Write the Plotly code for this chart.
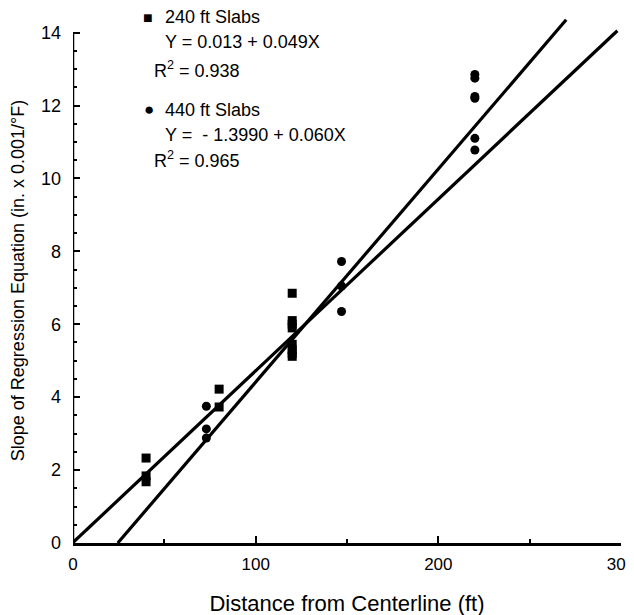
import plotly.graph_objects as go

# ---- data ----
sq_x = [40, 40, 40, 80, 80, 120, 120, 120, 120, 120, 120, 120, 120]
sq_y = [2.33, 1.84, 1.68, 4.22, 3.73, 6.85, 6.1, 6.0, 5.9, 5.45, 5.3, 5.2, 5.12]

ci_x = [73, 73, 73, 147, 147, 147, 220, 220, 220, 220, 220, 220]
ci_y = [3.75, 3.13, 2.88, 7.72, 7.05, 6.35, 12.85, 12.75, 12.25, 12.2, 11.1, 10.78]

fit240_x = [0, 298]
fit240_y = [0.013, 14.05]
fit440_x = [24.5, 270]
fit440_y = [0.0, 14.35]

x_ticks = [0, 100, 200, 300]
y_ticks = [0, 2, 4, 6, 8, 10, 12, 14]

FONT = "Liberation Sans, Arial, Helvetica, sans-serif"

# plot area geometry in screen pixels (page body has an 8px default margin)
OFF = 8
PL, PR, PB, PT = 73, 621, 543, 18
W, H = 634, 615
def px2paper_x(px):
    return (px - PL) / (PR - PL)
def px2paper_y(py):
    return (PB - py) / (PB - PT)

fig = go.Figure()
fig.add_trace(go.Scatter(x=fit240_x, y=fit240_y, mode="lines",
                         line=dict(color="black", width=3.2), showlegend=False,
                         hoverinfo="skip"))
fig.add_trace(go.Scatter(x=fit440_x, y=fit440_y, mode="lines",
                         line=dict(color="black", width=3.2), showlegend=False,
                         hoverinfo="skip"))
fig.add_trace(go.Scatter(x=sq_x, y=sq_y, mode="markers", name="240 ft Slabs",
                         marker=dict(symbol="square", size=9, color="black"),
                         showlegend=False, cliponaxis=False))
fig.add_trace(go.Scatter(x=ci_x, y=ci_y, mode="markers", name="440 ft Slabs",
                         marker=dict(symbol="circle", size=9, color="black"),
                         showlegend=False, cliponaxis=False))

# left axis line only up to 14
fig.add_shape(type="line", xref="x", yref="y", x0=0, x1=0, y0=0, y1=14,
              line=dict(color="black", width=2.5))

ann = [
    (141, 17, "<span style='font-size:16px'>■</span>"),
    (163, 17, "240 ft Slabs"),
    (163, 42, "Y = 0.013 + 0.049X"),
    (152, 69, "R<sup>2</sup> = 0.938"),
    (142, 110, "<span style='font-size:17px'>●</span>"),
    (163, 110, "440 ft Slabs"),
    (163, 135, "Y =  - 1.3990 + 0.060X"),
    (152, 159, "R<sup>2</sup> = 0.965"),
]
for px, py, txt in ann:
    fig.add_annotation(x=px2paper_x(px), y=px2paper_y(py), xref="paper", yref="paper",
                       text=txt, showarrow=False, xanchor="left", yanchor="middle",
                       font=dict(family=FONT, size=18, color="black"))

fig.update_layout(
    width=W, height=H,
    margin=dict(l=PL - OFF, r=W - (PR - OFF), t=PT - OFF, b=H - (PB - OFF)),
    paper_bgcolor="white", plot_bgcolor="white",
    font=dict(family=FONT, size=17, color="black"),
    xaxis=dict(range=[0, 300], tickvals=x_ticks, ticks="inside", ticklen=7,
               tickwidth=2, tickcolor="black", showline=True, linecolor="black",
               linewidth=2.5, showgrid=False, zeroline=False, automargin=False,
               ticklabeloverflow="allow", ticklabelstandoff=4,
               minor=dict(dtick=50, ticks="inside", ticklen=4, tickwidth=2,
                          tickcolor="black", showgrid=False),
               title=dict(text="Distance from Centerline (ft)",
                          font=dict(size=22), standoff=23),
               tickfont=dict(size=17)),
    yaxis=dict(range=[0, 14.4], tickvals=y_ticks, ticks="inside", ticklen=7,
               tickwidth=2, tickcolor="black", showline=False, automargin=False,
               showgrid=False, zeroline=False, ticklabelstandoff=11,
               minor=dict(tickvals=[v / 2 for v in range(0, 29) if v % 4 != 0],
                          ticks="inside", ticklen=4, tickwidth=2,
                          tickcolor="black", showgrid=False),
               title=dict(text="Slope of Regression Equation (in. x 0.001/°F)",
                          font=dict(size=18), standoff=11),
               tickfont=dict(size=18)),
)

fig.write_html("out.html")
